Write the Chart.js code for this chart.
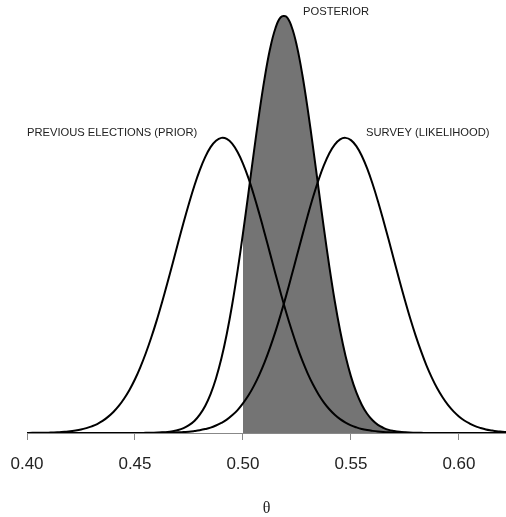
<!DOCTYPE html>
<html>
<head>
<meta charset="utf-8">
<script src="https://cdn.jsdelivr.net/npm/chart.js@4"></script>
<style>
html,body{margin:0;padding:0;background:#fff;}
#wrap{width:506px;height:517px;}
</style>
</head>
<body>
<div id="wrap"><canvas id="c" width="506" height="517"></canvas></div>
<script>
// θ grid (step 0.0025)
const theta = [
0.4000,0.4025,0.4050,0.4075,0.4100,0.4125,0.4150,0.4175,0.4200,0.4225,
0.4250,0.4275,0.4300,0.4325,0.4350,0.4375,0.4400,0.4425,0.4450,0.4475,
0.4500,0.4525,0.4550,0.4575,0.4600,0.4625,0.4650,0.4675,0.4700,0.4725,
0.4750,0.4775,0.4800,0.4825,0.4850,0.4875,0.4900,0.4925,0.4950,0.4975,
0.5000,0.5025,0.5050,0.5075,0.5100,0.5125,0.5150,0.5175,0.5200,0.5225,
0.5250,0.5275,0.5300,0.5325,0.5350,0.5375,0.5400,0.5425,0.5450,0.5475,
0.5500,0.5525,0.5550,0.5575,0.5600,0.5625,0.5650,0.5675,0.5700,0.5725,
0.5750,0.5775,0.5800,0.5825,0.5850,0.5875,0.5900,0.5925,0.5950,0.5975,
0.6000,0.6025,0.6050,0.6075,0.6100,0.6125,0.6150,0.6175,0.6200,0.6225
];
// Previous elections (prior) density
const prior = [
0.00,0.01,0.01,0.01,0.02,0.03,0.05,0.07,0.11,0.15,
0.21,0.30,0.41,0.55,0.74,0.99,1.29,1.66,2.12,2.66,
3.30,4.05,4.90,5.85,6.89,8.02,9.21,10.45,11.70,12.93,
14.10,15.19,16.15,16.95,17.56,17.95,18.13,18.07,17.78,17.26,
16.55,15.67,14.64,13.50,12.29,11.05,9.80,8.59,7.42,6.34,
5.34,4.44,3.65,2.96,2.37,1.87,1.46,1.12,0.85,0.64,
0.47,0.35,0.25,0.18,0.13,0.09,0.06,0.04,0.03,0.02,
0.01,0.01,0.00,0.00,0.00,0.00,0.00,0.00,0.00,0.00,
0.00,0.00,0.00,0.00,0.00,0.00,0.00,0.00,0.00,0.00
];
// Survey (likelihood) density
const survey = [
0.00,0.00,0.00,0.00,0.00,0.00,0.00,0.00,0.00,0.00,
0.00,0.00,0.00,0.00,0.00,0.00,0.00,0.00,0.00,0.00,
0.00,0.00,0.00,0.00,0.01,0.01,0.02,0.03,0.04,0.06,
0.08,0.12,0.17,0.24,0.33,0.46,0.62,0.82,1.09,1.41,
1.82,2.30,2.88,3.56,4.34,5.23,6.21,7.29,8.44,9.66,
10.90,12.14,13.36,14.51,15.55,16.45,17.19,17.72,18.04,18.13,
17.99,17.62,17.03,16.25,15.31,14.24,13.07,11.85,10.60,9.36,
8.16,7.02,5.97,5.01,4.14,3.39,2.73,2.18,1.71,1.33,
1.02,0.77,0.58,0.42,0.31,0.22,0.16,0.11,0.08,0.05
];
// Posterior density
const posterior = [
0.00,0.00,0.00,0.00,0.00,0.00,0.00,0.00,0.00,0.00,
0.00,0.00,0.00,0.00,0.00,0.00,0.00,0.00,0.00,0.00,
0.00,0.00,0.01,0.01,0.02,0.04,0.06,0.11,0.18,0.30,
0.48,0.74,1.13,1.66,2.39,3.35,4.57,6.08,7.88,9.96,
12.26,14.71,17.21,19.61,21.77,23.57,24.85,25.54,25.58,24.97,
23.75,22.01,19.88,17.50,15.01,12.55,10.22,8.11,6.28,4.73,
3.48,2.49,1.74,1.18,0.78,0.50,0.32,0.19,0.12,0.07,
0.04,0.02,0.01,0.01,0.00,0.00,0.00,0.00,0.00,0.00,
0.00,0.00,0.00,0.00,0.00,0.00,0.00,0.00,0.00,0.00
];
const shadeFrom = 0.50;
const tickValues = [0.40, 0.45, 0.50, 0.55, 0.60];
const tickLabels = ['0.40', '0.45', '0.50', '0.55', '0.60'];
const curveLabels = ['PREVIOUS ELECTIONS (PRIOR)', 'POSTERIOR', 'SURVEY (LIKELIHOOD)'];
const labelTheta = [0.4394, 0.5431, 0.5856];
const labelDensity = [18.45, 25.85, 18.45];
const axisTitle = 'θ';

const pts = arr => theta.map((t, i) => ({x: t, y: arr[i]}));
const shadePts = theta.map((t, i) => ({x: t, y: t >= shadeFrom - 1e-9 ? posterior[i] : null}));

const curveStyle = {borderColor: '#000', borderWidth: 2, pointRadius: 0, fill: false, tension: 0.4};

const textPlugin = {
  id: 'curveText',
  afterDatasetsDraw(chart) {
    const {ctx, scales: {x, y}} = chart;
    ctx.save();
    ctx.font = '11.2px "Liberation Sans", Arial, sans-serif';
    ctx.fillStyle = '#222';
    ctx.textAlign = 'center';
    ctx.textBaseline = 'middle';
    curveLabels.forEach((s, i) => {
      ctx.fillText(s, x.getPixelForValue(labelTheta[i]), y.getPixelForValue(labelDensity[i]));
    });
    ctx.restore();
  }
};

new Chart(document.getElementById('c'), {
  type: 'line',
  data: {
    datasets: [
      Object.assign({label: 'prior', data: pts(prior), order: 1}, curveStyle),
      Object.assign({label: 'survey', data: pts(survey), order: 1}, curveStyle),
      Object.assign({label: 'posterior', data: pts(posterior), order: 0}, curveStyle),
      {label: 'shade', data: shadePts, order: 5, borderWidth: 0, borderColor: 'rgba(0,0,0,0)',
       backgroundColor: '#747474', fill: 'origin', pointRadius: 0, tension: 0.4, spanGaps: false}
    ]
  },
  options: {
    responsive: false,
    animation: false,
    devicePixelRatio: 1,
    layout: {padding: {left: 27, right: 0, top: 0, bottom: 0}},
    plugins: {legend: {display: false}, tooltip: {enabled: false}},
    scales: {
      x: {
        type: 'linear',
        min: 0.40,
        max: 0.6218,
        afterBuildTicks: s => { s.ticks = tickValues.map(v => ({value: v})); },
        afterFit: s => { s.paddingLeft = 0; s.paddingRight = 0; s.height = 84; },
        ticks: {
          autoSkip: false,
          maxRotation: 0,
          padding: 14,
          color: '#222',
          font: {family: '"Liberation Sans", Arial, sans-serif', size: 17},
          callback: (v) => tickLabels[tickValues.findIndex(t => Math.abs(t - v) < 1e-9)]
        },
        grid: {display: true, drawOnChartArea: false, drawTicks: true, tickLength: 7, color: '#888', lineWidth: 1},
        border: {display: true, color: '#888', width: 1},
        title: {display: true, text: axisTitle, color: '#222',
                font: {family: '"Liberation Serif", "DejaVu Serif", serif', size: 16, lineHeight: 1},
                padding: {top: 10, bottom: 0}}
      },
      y: {
        type: 'linear', display: false, min: 0, max: 26.6
      }
    }
  },
  plugins: [textPlugin]
});
</script>
</body>
</html>
